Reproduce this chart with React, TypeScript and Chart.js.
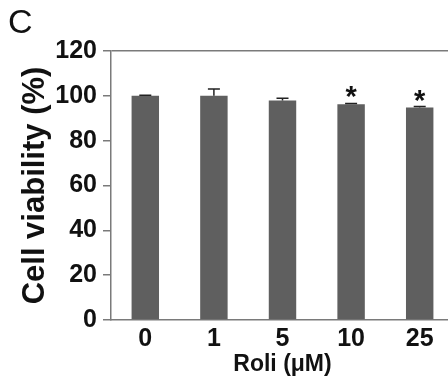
import React, { useEffect, useRef } from "react";
import { Chart, registerables } from "chart.js";

Chart.register(...registerables);

const categories = ["0", "1", "5", "10", "25"];
const means = [100, 100, 97.9, 96.2, 94.8];
const errors = [0.3, 3.0, 1.0, 0.4, 0.4];
const marks = ["", "", "", "*", "*"];
const yTicks = [0, 20, 40, 60, 80, 100, 120];
const panelLabel = "C";
const yTitle = "Cell viability (%)";
const xTitle = "Roli (μM)";

const FONT = "Arial, 'Liberation Sans', sans-serif";
const AXIS = "#7a7a7a";

export default function App() {
  const ref = useRef<HTMLCanvasElement | null>(null);
  useEffect(() => {
    const canvas = ref.current!;
    const extras = {
      id: "extras",
      afterDatasetsDraw(chart: any) {
        const ctx = chart.ctx;
        const meta = chart.getDatasetMeta(0);
        const y = chart.scales.y;
        ctx.save();
        ctx.strokeStyle = "#222";
        ctx.lineWidth = 1.5;
        meta.data.forEach((bar: any, i: number) => {
          const x = bar.x;
          const y0 = y.getPixelForValue(means[i]);
          const y1 = y.getPixelForValue(means[i] + errors[i]);
          ctx.beginPath();
          ctx.moveTo(x, y0);
          ctx.lineTo(x, y1);
          ctx.moveTo(x - 6, y1);
          ctx.lineTo(x + 6, y1);
          ctx.stroke();
          if (marks[i]) {
            ctx.fillStyle = "#111";
            ctx.font = `bold 29px ${FONT}`;
            ctx.textAlign = "center";
            ctx.textBaseline = "alphabetic";
            ctx.fillText(marks[i], x, y1 + 3);
          }
        });
        ctx.fillStyle = "#111";
        ctx.font = `34px ${FONT}`;
        ctx.textAlign = "left";
        ctx.textBaseline = "middle";
        ctx.fillText(panelLabel, 8, 24);
        ctx.restore();
      },
    };
    const chart = new Chart(canvas, {
      type: "bar",
      data: {
        labels: categories,
        datasets: [
          {
            data: means,
            backgroundColor: "#5f5f5f",
            borderWidth: 0,
            barPercentage: 0.4,
            categoryPercentage: 1,
          },
        ],
      },
      options: {
        responsive: false,
        animation: false,
        layout: { padding: { top: 51, right: 16, left: 0, bottom: 0 } },
        plugins: { legend: { display: false }, tooltip: { enabled: false } },
        scales: {
          x: {
            grid: { display: false, drawTicks: false },
            border: { display: true, color: AXIS, width: 1.5 },
            ticks: {
              color: "#111",
              font: { family: FONT, size: 25, weight: "bold" },
              padding: 4,
            },
            title: {
              display: true,
              text: xTitle,
              color: "#111",
              font: { family: FONT, size: 23, weight: "bold" },
              padding: { top: 0, bottom: 6 },
            },
            afterFit(scale: any) {
              scale.height = 64;
            },
          },
          y: {
            min: 0,
            max: 120,
            afterBuildTicks(scale: any) {
              scale.ticks = yTicks.map((v) => ({ value: v }));
            },
            grid: {
              drawOnChartArea: true,
              color: (c: any) => (c.tick && c.tick.value === 120 ? AXIS : "rgba(0,0,0,0)"),
              tickColor: AXIS,
              tickLength: 8,
              lineWidth: 1.5,
            },
            border: { display: true, color: AXIS, width: 1.5 },
            ticks: {
              color: "#111",
              font: { family: FONT, size: 25, weight: "bold" },
              padding: 6,
            },
            title: {
              display: true,
              text: yTitle,
              color: "#111",
              font: { family: FONT, size: 31, weight: "bold" },
              padding: { top: 17, bottom: 0 },
            },
            afterFit(scale: any) {
              scale.width = 111;
            },
          },
        },
      },
      plugins: [extras],
    });
    return () => chart.destroy();
  }, []);
  return (
    <div
      style={{
        position: "fixed",
        left: 0,
        top: 0,
        width: 448,
        height: 384,
        overflow: "hidden",
        background: "#fff",
      }}
    >
      <canvas ref={ref} width={470} height={384} style={{ width: 470, height: 384, display: "block" }} />
    </div>
  );
}
